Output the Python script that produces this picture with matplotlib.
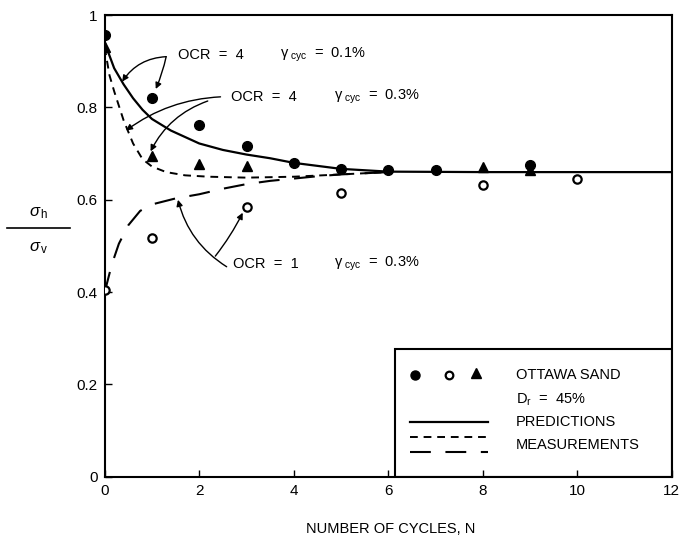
import numpy as np
import matplotlib
matplotlib.use("Agg")
import matplotlib.pyplot as plt
from matplotlib.patches import Rectangle
from matplotlib.lines import Line2D

plt.rcParams['font.family'] = ['Liberation Sans', 'DejaVu Sans']
plt.rcParams['mathtext.fontset'] = 'custom'
plt.rcParams['mathtext.rm'] = 'Liberation Sans'
plt.rcParams['mathtext.it'] = 'Liberation Sans:italic'

n_ocr4_01 = [0, 1, 2, 3, 4, 5, 6, 7, 9]
r_ocr4_01 = [0.958, 0.82, 0.762, 0.716, 0.68, 0.667, 0.664, 0.664, 0.675]

n_ocr4_03 = [0, 1, 2, 3, 8, 9]
r_ocr4_03 = [0.93, 0.695, 0.678, 0.674, 0.67, 0.664]

n_ocr1_03 = [0, 1, 3, 5, 8, 10]
r_ocr1_03 = [0.405, 0.517, 0.585, 0.615, 0.632, 0.645]

# curves
n_pred = [0, 0.2, 0.4, 0.6, 0.8, 1.0, 1.4, 2.0, 2.5, 3.0, 3.5, 4.0, 5.0, 6.0, 8.0, 12.0]
r_pred = [0.94, 0.885, 0.85, 0.82, 0.795, 0.775, 0.75, 0.722, 0.708, 0.698, 0.69, 0.68, 0.667, 0.661, 0.66, 0.66]

n_meas4 = [0, 0.1, 0.2, 0.4, 0.6, 0.8, 1.0, 1.3, 1.7, 2.2, 3.0, 4.0, 5.0, 6.0]
r_meas4 = [0.93, 0.87, 0.835, 0.772, 0.722, 0.688, 0.672, 0.66, 0.653, 0.65, 0.648, 0.65, 0.655, 0.66]

n_meas1 = [0, 0.15, 0.3, 0.5, 0.75, 1.0, 1.5, 2.0, 2.5, 3.0, 3.5, 4.0, 4.5, 5.0, 6.0]
r_meas1 = [0.40, 0.46, 0.505, 0.545, 0.576, 0.59, 0.603, 0.612, 0.624, 0.634, 0.641, 0.646, 0.651, 0.655, 0.66]

xticks = [0, 2, 4, 6, 8, 10, 12]
yticks = [0, 0.2, 0.4, 0.6, 0.8, 1]
ytick_labels = ['0', '0.2', '0.4', '0.6', '0.8', '1']

fig = plt.figure(figsize=(6.8, 5.4), dpi=100)
ax = fig.add_axes([0.154, 0.117, 0.834, 0.855])

ax.plot(n_pred, r_pred, color='black', lw=1.6)
ax.plot(n_meas4, r_meas4, color='black', lw=1.4, dashes=(4, 3))
ax.plot(n_meas1, r_meas1, color='black', lw=1.5, dashes=(10, 7))

ax.plot(n_ocr4_01, r_ocr4_01, 'o', color='black', ms=7, zorder=5)
ax.plot(n_ocr4_03, r_ocr4_03, '^', color='black', ms=6.5, zorder=5)
ax.plot(n_ocr1_03, r_ocr1_03, 'o', mfc='white', mec='black', mew=1.6, ms=6, zorder=5)

ax.set_xlim(0, 12)
ax.set_ylim(0, 1)
ax.set_xticks(xticks)
ax.set_yticks(yticks)
ax.set_yticklabels(ytick_labels)
ax.tick_params(direction='in', length=5, width=1, labelsize=11, pad=5)
for s in ax.spines.values():
    s.set_linewidth(1.5)

fig.text(0.575, 0.02, 'NUMBER OF CYCLES, N', fontsize=10.5, ha='center', va='center')

# y label as fraction
fig.text(0.057, 0.606, r'$\sigma_{\,\mathregular{h}}$', fontsize=12, ha='center', va='center')
fig.add_artist(Line2D([0.01, 0.103], [0.578, 0.578], color='black', lw=1.2))
fig.text(0.057, 0.541, r'$\sigma_{\,\mathregular{v}}$', fontsize=12, ha='center', va='center')

# annotations
fs = 10.5
gam = r'$\mathregular{\gamma}_{\mathregular{\ cyc}}$'
ax.text(1.55, 0.913, 'OCR  =  4', fontsize=fs, va='center')
ax.text(3.7, 0.913, gam + '  =  0.1%', fontsize=fs, va='center')
ax.text(2.68, 0.823, 'OCR  =  4', fontsize=fs, va='center')
ax.text(4.85, 0.823, gam + '  =  0.3%', fontsize=fs, va='center')
ax.text(2.72, 0.462, 'OCR  =  1', fontsize=fs, va='center')
ax.text(4.85, 0.462, gam + '  =  0.3%', fontsize=fs, va='center')

ap = dict(arrowstyle='-|>', color='black', lw=1, mutation_scale=9, shrinkA=0, shrinkB=0)
ax.annotate('', xy=(0.37, 0.856), xytext=(1.3, 0.91),
            arrowprops=dict(ap, connectionstyle='arc3,rad=0.25'))
ax.annotate('', xy=(1.08, 0.84), xytext=(1.3, 0.91),
            arrowprops=dict(ap, connectionstyle='arc3,rad=-0.05'))
ax.annotate('', xy=(0.45, 0.75), xytext=(2.45, 0.823),
            arrowprops=dict(ap, connectionstyle='arc3,rad=0.15'))
ax.annotate('', xy=(0.97, 0.705), xytext=(2.18, 0.814),
            arrowprops=dict(ap, connectionstyle='arc3,rad=0.2'))
ax.annotate('', xy=(1.55, 0.6), xytext=(2.58, 0.455),
            arrowprops=dict(ap, connectionstyle='arc3,rad=-0.2'))
ax.annotate('', xy=(2.92, 0.572), xytext=(2.34, 0.478),
            arrowprops=dict(ap, connectionstyle='arc3,rad=0.05'))

# legend box
ax.add_patch(Rectangle((6.14, 0), 5.86, 0.277, fill=False, lw=1.5, ec='black', zorder=6))
ax.plot([6.57], [0.221], 'o', color='black', ms=6.5, zorder=7)
ax.plot([7.28], [0.221], 'o', mfc='white', mec='black', mew=1.6, ms=5.5, zorder=7)
ax.plot([7.86], [0.224], '^', color='black', ms=6.5, zorder=7)
lf = 10.5
ax.text(8.7, 0.221, 'OTTAWA SAND', fontsize=lf, va='center')
ax.text(8.7, 0.167, r'D$_{\mathregular{r}}$  =  45%', fontsize=lf, va='center')
ax.plot([6.46, 8.1], [0.118, 0.118], color='black', lw=1.6)
ax.text(8.7, 0.118, 'PREDICTIONS', fontsize=lf, va='center')
ax.plot([6.46, 8.1], [0.086, 0.086], color='black', lw=1.4, dashes=(4, 3))
ax.plot([6.46, 8.1], [0.054, 0.054], color='black', lw=1.5, dashes=(10, 7))
ax.text(8.7, 0.07, 'MEASUREMENTS', fontsize=lf, va='center')

fig.savefig('out.png', dpi=100)
